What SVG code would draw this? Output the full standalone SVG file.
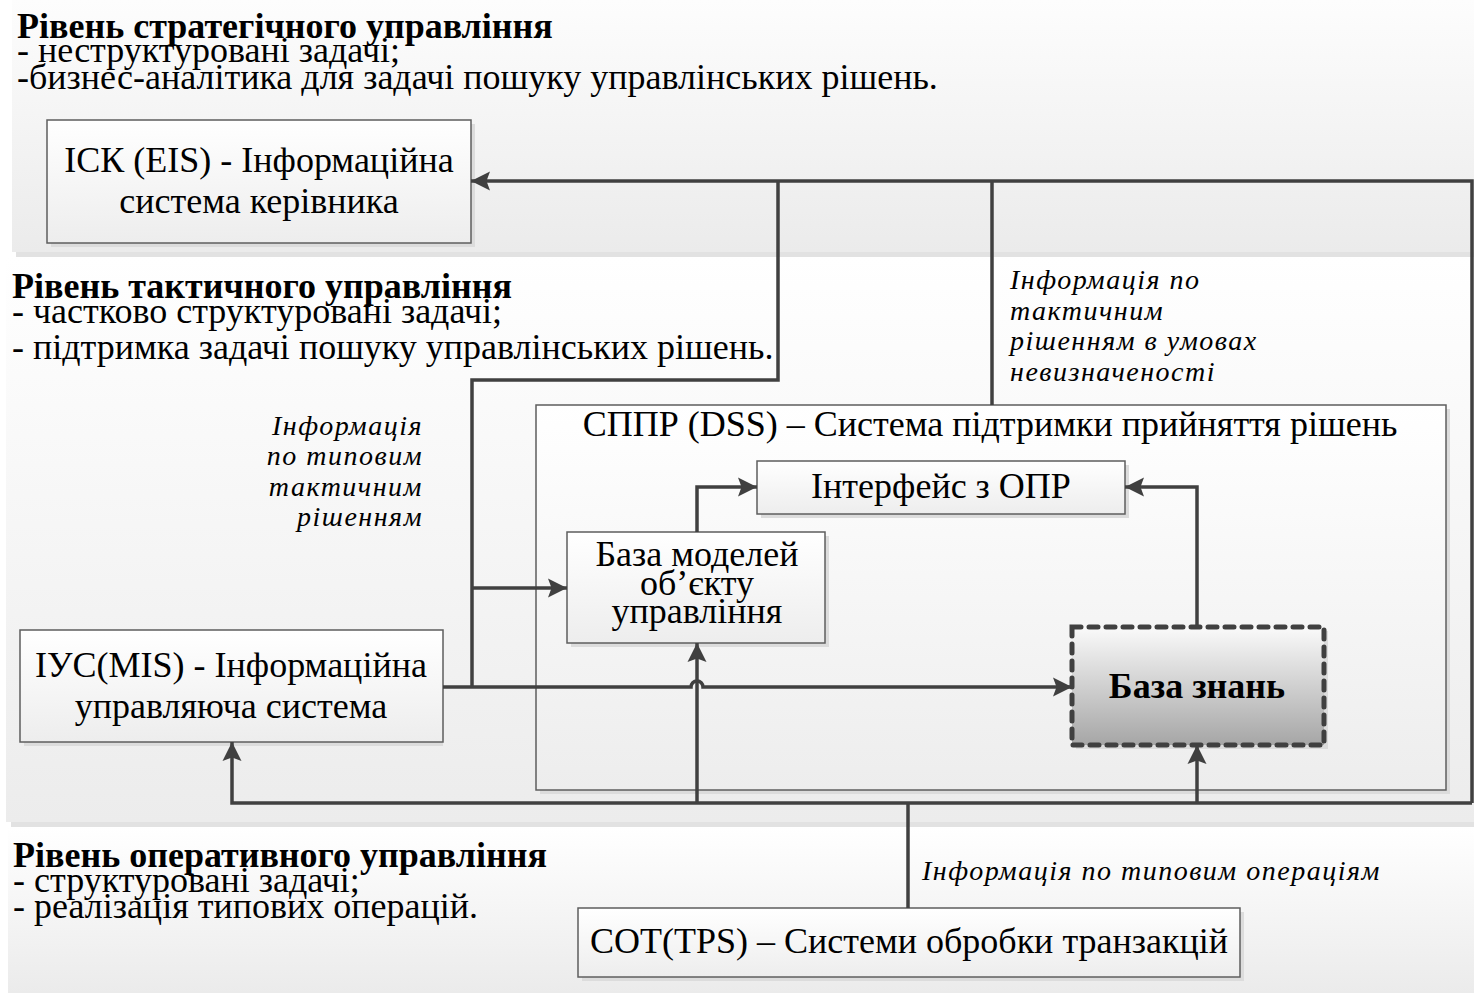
<svg xmlns="http://www.w3.org/2000/svg" width="1474" height="993" viewBox="0 0 1474 993">
  <defs>
    <linearGradient id="bandTop" x1="0" y1="0" x2="0" y2="1">
      <stop offset="0" stop-color="#fdfdfd"/>
      <stop offset="1" stop-color="#ebebeb"/>
    </linearGradient>
    <linearGradient id="bandMid" x1="0" y1="0" x2="0" y2="1">
      <stop offset="0" stop-color="#ffffff"/>
      <stop offset="1" stop-color="#ececec"/>
    </linearGradient>
    <linearGradient id="bandBot" x1="0" y1="0" x2="0" y2="1">
      <stop offset="0" stop-color="#ffffff"/>
      <stop offset="1" stop-color="#ebebeb"/>
    </linearGradient>
    <linearGradient id="boxFill" x1="0" y1="0" x2="0" y2="1">
      <stop offset="0" stop-color="#ffffff"/>
      <stop offset="1" stop-color="#ededed"/>
    </linearGradient>
    <linearGradient id="kbFill" x1="0" y1="0" x2="0" y2="1">
      <stop offset="0" stop-color="#fafafa"/>
      <stop offset="1" stop-color="#a6a6a6"/>
    </linearGradient>
    <marker id="arrow" viewBox="0 0 20 20" refX="19" refY="10" markerWidth="20" markerHeight="20" markerUnits="userSpaceOnUse" orient="auto">
      <path d="M19,10 L0,0.5 L3.5,10 L0,19.5 Z" fill="#404040"/>
    </marker>
    <style>
      .band-shadow { fill: #e2e2e2; }
      .shadow { fill: #dcdcdc; }
      .box { fill: url(#boxFill); stroke: #5e5e5e; stroke-width: 1.5; }
      .kb { fill: url(#kbFill); stroke: #404040; stroke-width: 5; stroke-dasharray: 9 8; stroke-linecap: round; }
      .wire { fill: none; stroke: #404040; stroke-width: 3.5; }
      .head { font-family: "Liberation Serif", "Times New Roman", serif; font-weight: bold; font-size: 36px; fill: #000; }
      .sub { font-family: "Liberation Serif", "Times New Roman", serif; font-size: 36px; fill: #000; }
      .lbl { font-family: "Liberation Serif", "Times New Roman", serif; font-size: 36px; fill: #000; text-anchor: middle; }
      .kbl { font-family: "Liberation Serif", "Times New Roman", serif; font-size: 36px; font-weight: bold; fill: #000; text-anchor: middle; }
      .note { font-family: "Liberation Serif", "Times New Roman", serif; font-style: italic; font-size: 28px; letter-spacing: 1.5px; fill: #000; }
    </style>
  </defs>

  <rect width="1474" height="993" fill="#ffffff"/>

  <!-- level bands -->
  <g id="bands">
    <rect class="band-shadow" x="16" y="252" width="1458" height="5"/>
    <rect x="12" y="0" width="1462" height="252" fill="url(#bandTop)"/>
    <rect class="band-shadow" x="11" y="822" width="1463" height="5"/>
    <rect x="6" y="257" width="1468" height="565" fill="url(#bandMid)"/>
    <rect x="8" y="827" width="1466" height="166" fill="url(#bandBot)"/>
  </g>

  <!-- level captions -->
  <g id="level-strategic">
    <text class="head" x="17" y="38">Рівень стратегічного управління</text>
    <text class="sub" x="17" y="62">- неструктуровані задачі;</text>
    <text class="sub" x="17" y="89">-бизнес-аналітика для задачі пошуку управлінських рішень.</text>
  </g>
  <g id="level-tactical">
    <text class="head" x="12" y="298">Рівень тактичного управління</text>
    <text class="sub" x="12" y="323">- частково структуровані задачі;</text>
    <text class="sub" x="12" y="359">- підтримка задачі пошуку управлінських рішень.</text>
  </g>
  <g id="level-operational">
    <text class="head" x="13" y="867">Рівень оперативного управління</text>
    <text class="sub" x="13" y="892">- структуровані задачі;</text>
    <text class="sub" x="13" y="918">- реалізація типових операцій.</text>
  </g>

  <!-- nodes -->
  <g id="eis">
    <rect class="shadow" x="51" y="124" width="424" height="123"/>
    <rect class="box" x="47" y="120" width="424" height="123"/>
    <text class="lbl" x="259" y="172">ІСК (EIS) - Інформаційна</text>
    <text class="lbl" x="259" y="213">система керівника</text>
  </g>

  <g id="dss">
    <rect class="shadow" x="540" y="409" width="910" height="385"/>
    <rect class="box" x="536" y="405" width="910" height="385"/>
    <text class="lbl" x="990" y="436">СППР (DSS) – Система підтримки прийняття рішень</text>
  </g>

  <g id="interface">
    <rect class="shadow" x="761" y="465" width="368" height="53"/>
    <rect class="box" x="757" y="461" width="368" height="53"/>
    <text class="lbl" x="941" y="498">Інтерфейс з ОПР</text>
  </g>

  <g id="model-base">
    <rect class="shadow" x="571" y="536" width="258" height="111"/>
    <rect class="box" x="567" y="532" width="258" height="111"/>
    <text class="lbl" x="697" y="566">База моделей</text>
    <text class="lbl" x="697" y="595">об’єкту</text>
    <text class="lbl" x="697" y="623">управління</text>
  </g>

  <g id="knowledge-base">
    <rect class="shadow" x="1076" y="631" width="252" height="118"/>
    <rect class="kb" x="1072" y="627" width="252" height="118"/>
    <text class="kbl" x="1197" y="698">База знань</text>
  </g>

  <g id="mis">
    <rect class="shadow" x="24" y="634" width="419" height="112"/>
    <rect class="box" x="20" y="630" width="423" height="112"/>
    <text class="lbl" x="231" y="677">ІУС(MIS) - Інформаційна</text>
    <text class="lbl" x="231" y="718">управляюча система</text>
  </g>

  <g id="tps">
    <rect class="shadow" x="582" y="912" width="662" height="69"/>
    <rect class="box" x="578" y="908" width="662" height="69"/>
    <text class="lbl" x="909" y="953">СОТ(TPS) – Системи обробки транзакцій</text>
  </g>

  <!-- connectors -->
  <g id="connectors">
    <!-- upward feed to the executive system -->
    <path class="wire" d="M1472,803 L1472,181 L471,181" marker-end="url(#arrow)"/>
    <path class="wire" d="M778,181 L778,380 L472,380 L472,687"/>
    <path class="wire" d="M992,181 L992,405"/>
    <!-- management information system into DSS -->
    <path class="wire" d="M443,687 L691,687 A6,6 0 0 1 703,687 L1072,687" marker-end="url(#arrow)"/>
    <path class="wire" d="M472,588 L567,588" marker-end="url(#arrow)"/>
    <!-- inner DSS links -->
    <path class="wire" d="M697,532 L697,487 L757,487" marker-end="url(#arrow)"/>
    <path class="wire" d="M1197,627 L1197,487 L1125,487" marker-end="url(#arrow)"/>
    <!-- transaction processing bus -->
    <path class="wire" d="M908,908 L908,803"/>
    <path class="wire" d="M1472,803 L232,803 L232,742" marker-end="url(#arrow)"/>
    <path class="wire" d="M697,803 L697,643" marker-end="url(#arrow)"/>
    <path class="wire" d="M1197,803 L1197,745" marker-end="url(#arrow)"/>
  </g>

  <!-- connector notes -->
  <g id="notes">
    <text class="note" x="1010" y="289">Інформація по</text>
    <text class="note" x="1010" y="320">тактичним</text>
    <text class="note" x="1010" y="350">рішенням в умовах</text>
    <text class="note" x="1010" y="381">невизначеності</text>
    <text class="note" x="423" y="435" text-anchor="end">Інформація</text>
    <text class="note" x="423" y="465" text-anchor="end">по типовим</text>
    <text class="note" x="423" y="496" text-anchor="end">тактичним</text>
    <text class="note" x="423" y="526" text-anchor="end">рішенням</text>
    <text class="note" x="922" y="880">Інформація по типовим операціям</text>
  </g>
</svg>
